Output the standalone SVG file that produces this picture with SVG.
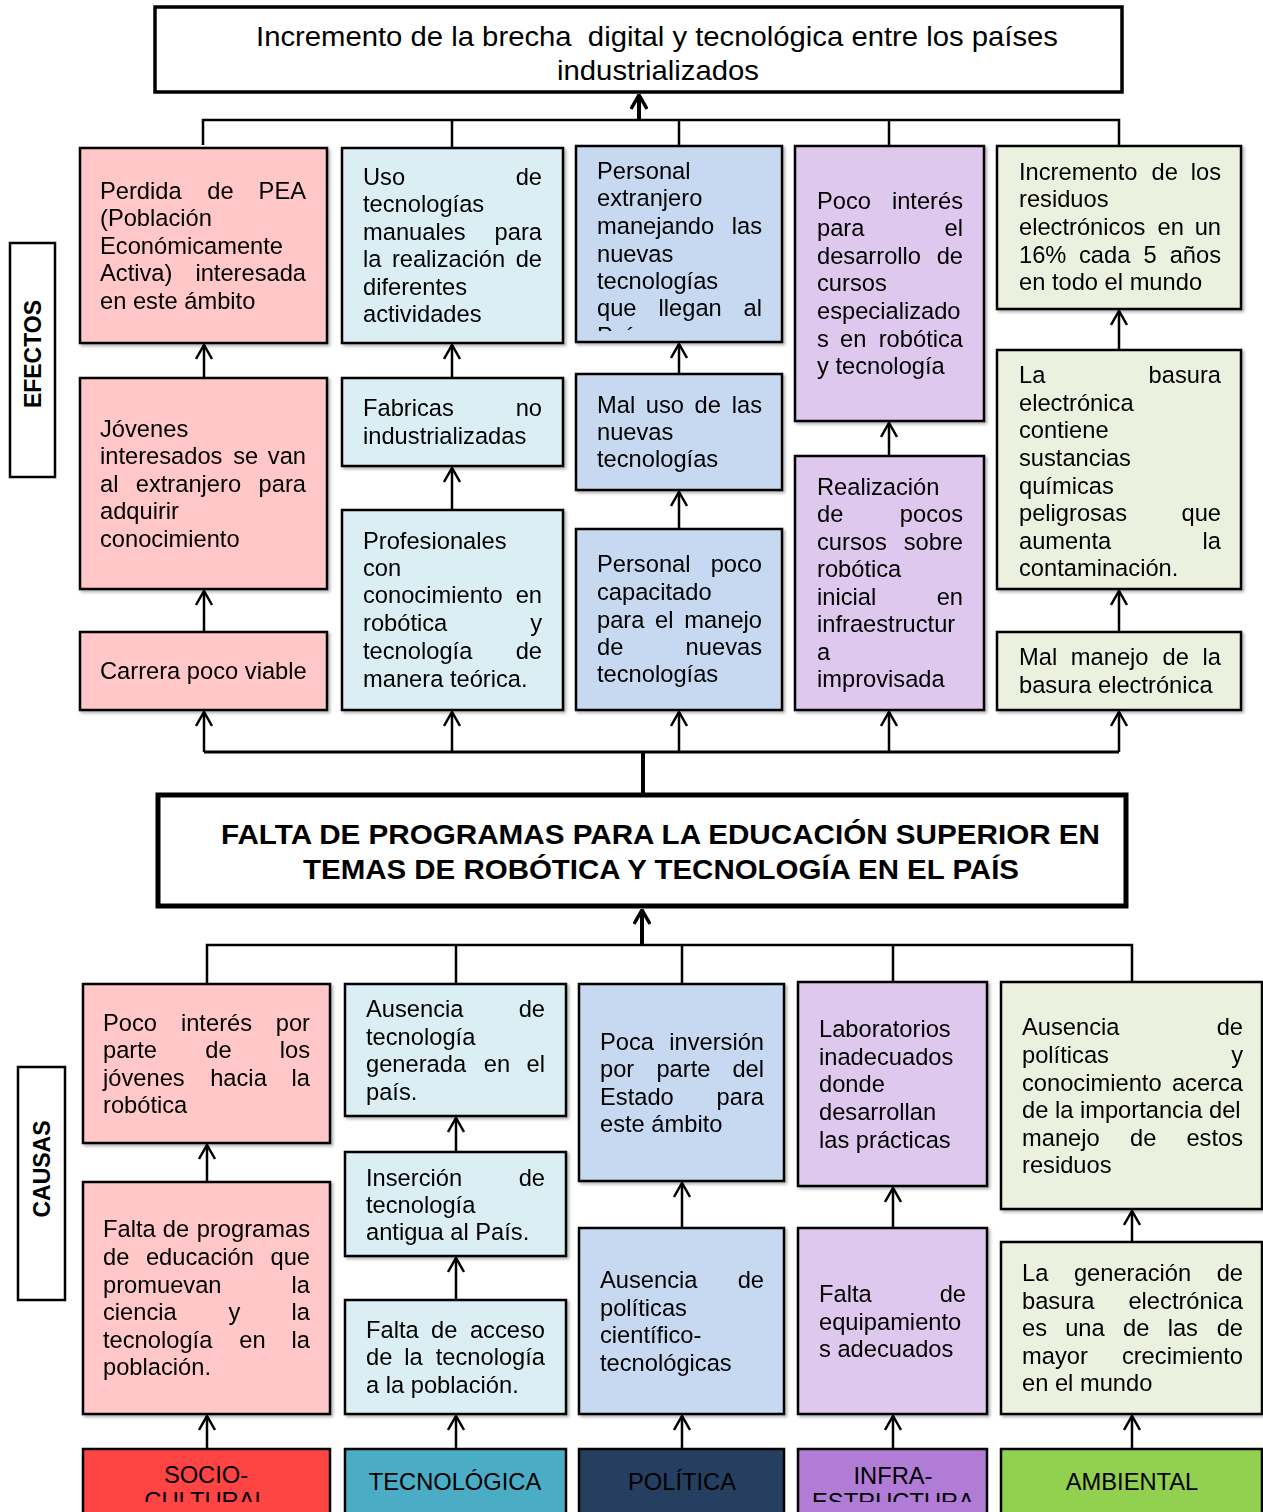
<svg xmlns="http://www.w3.org/2000/svg" width="1263" height="1512" viewBox="0 0 1263 1512">
<style>
text{font-family:"Liberation Sans",Arial,sans-serif;font-size:23.7px;fill:#000}
.e{text-anchor:end}
.m{text-anchor:middle}
.b{stroke:#000;stroke-width:2.5}
.pk{fill:#FFC7C7}.lb{fill:#DBEEF4}.bl{fill:#C6D9F1}.lv{fill:#DFC8EE}.gr{fill:#EBF1DE}
.ln{stroke:#000;stroke-width:2.5;fill:none}
.ar{stroke:#000;stroke-width:2.5;fill:none;marker-end:url(#ah)}
.tk{stroke:#000;stroke-width:4;fill:none}
.bd{font-weight:bold}
</style>
<defs>
<marker id="ah" viewBox="0 0 16 18" refX="15" refY="9" markerWidth="16" markerHeight="18" markerUnits="userSpaceOnUse" orient="auto">
<path d="M1,1 L15,9 L1,17" fill="none" stroke="#000" stroke-width="2.5"/>
</marker>
<marker id="ahk" viewBox="0 0 16 18" refX="14" refY="9" markerWidth="16" markerHeight="18" markerUnits="userSpaceOnUse" orient="auto">
<path d="M1,1 L15,9 L1,17" fill="none" stroke="#000" stroke-width="3.5"/>
</marker>
<filter id="sh" x="-5%" y="-5%" width="115%" height="115%">
<feDropShadow dx="2" dy="2" stdDeviation="1.5" flood-color="#000" flood-opacity="0.3"/>
</filter>
<clipPath id="c3clip"><rect x="576" y="146" width="206" height="185"/></clipPath>
<clipPath id="catclip"><rect x="0" y="1440" width="1263" height="62"/></clipPath>
</defs>

<g id="connectors">
<polyline class="ln" points="203,145 203,120 1119,120 1119,145"/>
<line class="ln" x1="452" y1="120" x2="452" y2="147"/>
<line class="ln" x1="679" y1="120" x2="679" y2="145"/>
<line class="ln" x1="889" y1="120" x2="889" y2="145"/>
<line class="tk" x1="639" y1="120" x2="639" y2="96" marker-end="url(#ahk)"/>
<line class="ar" x1="204" y1="378" x2="204" y2="345"/>
<line class="ar" x1="204" y1="632" x2="204" y2="591"/>
<line class="ar" x1="452" y1="378" x2="452" y2="345"/>
<line class="ar" x1="452" y1="510" x2="452" y2="468"/>
<line class="ar" x1="679" y1="374" x2="679" y2="344"/>
<line class="ar" x1="679" y1="529" x2="679" y2="492"/>
<line class="ar" x1="889" y1="456" x2="889" y2="423"/>
<line class="ar" x1="1119" y1="350" x2="1119" y2="311"/>
<line class="ar" x1="1119" y1="632" x2="1119" y2="591"/>
<polyline class="ln" points="204,752 1119,752" style="stroke-width:3"/>
<line class="ar" x1="204" y1="752" x2="204" y2="712"/>
<line class="ar" x1="452" y1="752" x2="452" y2="712"/>
<line class="ar" x1="679" y1="752" x2="679" y2="712"/>
<line class="ar" x1="889" y1="752" x2="889" y2="712"/>
<line class="ar" x1="1119" y1="752" x2="1119" y2="712"/>
<line class="tk" x1="643" y1="751" x2="643" y2="795"/>
<line class="tk" x1="642" y1="945" x2="642" y2="911" marker-end="url(#ahk)"/>
<polyline class="ln" points="207,984 207,945 1132,945 1132,982"/>
<line class="ln" x1="456" y1="945" x2="456" y2="984"/>
<line class="ln" x1="682" y1="945" x2="682" y2="984"/>
<line class="ln" x1="893" y1="945" x2="893" y2="982"/>
<line class="ar" x1="207" y1="1182" x2="207" y2="1145"/>
<line class="ar" x1="207" y1="1449" x2="207" y2="1416"/>
<line class="ar" x1="456" y1="1152" x2="456" y2="1118"/>
<line class="ar" x1="456" y1="1300" x2="456" y2="1258"/>
<line class="ar" x1="456" y1="1449" x2="456" y2="1416"/>
<line class="ar" x1="682" y1="1228" x2="682" y2="1183"/>
<line class="ar" x1="682" y1="1449" x2="682" y2="1416"/>
<line class="ar" x1="893" y1="1228" x2="893" y2="1188"/>
<line class="ar" x1="893" y1="1449" x2="893" y2="1416"/>
<line class="ar" x1="1132" y1="1242" x2="1132" y2="1211"/>
<line class="ar" x1="1132" y1="1449" x2="1132" y2="1416"/>
</g>

<g id="effect-top">
<rect x="155" y="7" width="967" height="85" fill="#fff" stroke="#000" stroke-width="3.5"/>
<text x="657" y="45.5" class="m" style="font-size:27.5px" textLength="802" lengthAdjust="spacingAndGlyphs">Incremento de la brecha &#160;digital y tecnológica entre los países</text>
<text x="658" y="80" class="m" style="font-size:27.5px" textLength="202" lengthAdjust="spacingAndGlyphs">industrializados</text>
</g>

<g id="label-efectos">
<rect x="10" y="243" width="45" height="234" fill="#fff" class="b"/>
<text class="bd m" style="font-size:23px" transform="translate(41,354) rotate(-90)">EFECTOS</text>
</g>

<g id="e1a" filter="url(#sh)">
<rect x="80" y="148" width="247" height="195" class="pk b"/>
<text x="100" y="199">Perdida</text><text x="220.4" y="199" class="m">de</text><text x="306" y="199" class="e">PEA</text>
<text x="100" y="226">(Población</text>
<text x="100" y="254">Económicamente</text>
<text x="100" y="281">Activa)</text><text x="306" y="281" class="e">interesada</text>
<text x="100" y="309">en este ámbito</text>
</g>
<g id="e1b" filter="url(#sh)">
<rect x="80" y="378" width="247" height="211" class="pk b"/>
<text x="100" y="437">Jóvenes</text>
<text x="100" y="464">interesados</text><text x="245.7" y="464" class="m">se</text><text x="306" y="464" class="e">van</text>
<text x="100" y="492">al</text><text x="188.4" y="492" class="m">extranjero</text><text x="306" y="492" class="e">para</text>
<text x="100" y="519">adquirir</text>
<text x="100" y="547">conocimiento</text>
</g>
<g id="e1c" filter="url(#sh)">
<rect x="80" y="632" width="247" height="78" class="pk b"/>
<text x="100" y="679">Carrera poco viable</text>
</g>

<g id="e2a" filter="url(#sh)">
<rect x="342" y="148" width="221" height="195" class="lb b"/>
<text x="363" y="185">Uso</text><text x="542" y="185" class="e">de</text>
<text x="363" y="212">tecnologías</text>
<text x="363" y="240">manuales</text><text x="542" y="240" class="e">para</text>
<text x="363" y="267">la</text><text x="448.5" y="267" class="m">realización</text><text x="542" y="267" class="e">de</text>
<text x="363" y="295">diferentes</text>
<text x="363" y="322">actividades</text>
</g>
<g id="e2b" filter="url(#sh)">
<rect x="342" y="378" width="221" height="88" class="lb b"/>
<text x="363" y="416">Fabricas</text><text x="542" y="416" class="e">no</text>
<text x="363" y="444">industrializadas</text>
</g>
<g id="e2c" filter="url(#sh)">
<rect x="342" y="510" width="221" height="200" class="lb b"/>
<text x="363" y="549">Profesionales</text>
<text x="363" y="576">con</text>
<text x="363" y="603">conocimiento</text><text x="542" y="603" class="e">en</text>
<text x="363" y="631">robótica</text><text x="542" y="631" class="e">y</text>
<text x="363" y="659">tecnología</text><text x="542" y="659" class="e">de</text>
<text x="363" y="687">manera teórica.</text>
</g>

<g id="e3a" filter="url(#sh)">
<rect x="576" y="146" width="206" height="196" class="bl b"/>
<g clip-path="url(#c3clip)">
<text x="597" y="179">Personal</text>
<text x="597" y="206">extranjero</text>
<text x="597" y="234">manejando</text><text x="762" y="234" class="e">las</text>
<text x="597" y="262">nuevas</text>
<text x="597" y="289">tecnologías</text>
<text x="597" y="316">que</text><text x="690.2" y="316" class="m">llegan</text><text x="762" y="316" class="e">al</text>
<text x="597" y="344">País.</text>
</g>
</g>
<g id="e3b" filter="url(#sh)">
<rect x="576" y="374" width="206" height="116" class="bl b"/>
<text x="597" y="413">Mal</text><text x="645.8" y="413">uso</text><text x="694.6" y="413">de</text><text x="762" y="413" class="e">las</text>
<text x="597" y="440">nuevas</text>
<text x="597" y="467">tecnologías</text>
</g>
<g id="e3c" filter="url(#sh)">
<rect x="576" y="529" width="206" height="181" class="bl b"/>
<text x="597" y="572">Personal</text><text x="762" y="572" class="e">poco</text>
<text x="597" y="600">capacitado</text>
<text x="597" y="628">para</text><text x="664.2" y="628" class="m">el</text><text x="762" y="628" class="e">manejo</text>
<text x="597" y="655">de</text><text x="762" y="655" class="e">nuevas</text>
<text x="597" y="682">tecnologías</text>
</g>

<g id="e4a" filter="url(#sh)">
<rect x="795" y="146" width="189" height="275" class="lv b"/>
<text x="817" y="209">Poco</text><text x="963" y="209" class="e">interés</text>
<text x="817" y="236">para</text><text x="963" y="236" class="e">el</text>
<text x="817" y="264">desarrollo</text><text x="963" y="264" class="e">de</text>
<text x="817" y="291">cursos</text>
<text x="817" y="319">especializado</text>
<text x="817" y="347">s</text><text x="853.3" y="347" class="m">en</text><text x="963" y="347" class="e">robótica</text>
<text x="817" y="374">y tecnología</text>
</g>
<g id="e4b" filter="url(#sh)">
<rect x="795" y="456" width="189" height="254" class="lv b"/>
<text x="817" y="495">Realización</text>
<text x="817" y="522">de</text><text x="963" y="522" class="e">pocos</text>
<text x="817" y="550">cursos</text><text x="963" y="550" class="e">sobre</text>
<text x="817" y="577">robótica</text>
<text x="817" y="605">inicial</text><text x="963" y="605" class="e">en</text>
<text x="817" y="632">infraestructur</text>
<text x="817" y="660">a</text>
<text x="817" y="687">improvisada</text>
</g>

<g id="e5a" filter="url(#sh)">
<rect x="997" y="146" width="244" height="163" class="gr b"/>
<text x="1019" y="180">Incremento</text><text x="1164.7" y="180" class="m">de</text><text x="1221" y="180" class="e">los</text>
<text x="1019" y="207">residuos</text>
<text x="1019" y="235">electrónicos</text><text x="1170.7" y="235" class="m">en</text><text x="1221" y="235" class="e">un</text>
<text x="1019" y="263">16%</text><text x="1079" y="263">cada</text><text x="1143.5" y="263">5</text><text x="1221" y="263" class="e">años</text>
<text x="1019" y="290">en todo el mundo</text>
</g>
<g id="e5b" filter="url(#sh)">
<rect x="997" y="350" width="244" height="239" class="gr b"/>
<text x="1019" y="383">La</text><text x="1221" y="383" class="e">basura</text>
<text x="1019" y="411">electrónica</text>
<text x="1019" y="438">contiene</text>
<text x="1019" y="466">sustancias</text>
<text x="1019" y="494">químicas</text>
<text x="1019" y="521">peligrosas</text><text x="1221" y="521" class="e">que</text>
<text x="1019" y="549">aumenta</text><text x="1221" y="549" class="e">la</text>
<text x="1019" y="576">contaminación.</text>
</g>
<g id="e5c" filter="url(#sh)">
<rect x="997" y="632" width="244" height="78" class="gr b"/>
<text x="1019" y="665">Mal</text><text x="1070.8" y="665">manejo</text><text x="1162.6" y="665">de</text><text x="1221" y="665" class="e">la</text>
<text x="1019" y="693">basura electrónica</text>
</g>

<g id="problem">
<rect x="158" y="795" width="968" height="111" fill="#fff" stroke="#000" stroke-width="5"/>
<text x="660.5" y="844" class="m bd" style="font-size:28px" textLength="879" lengthAdjust="spacingAndGlyphs">FALTA DE PROGRAMAS PARA LA EDUCACIÓN SUPERIOR EN</text>
<text x="661" y="879" class="m bd" style="font-size:28px" textLength="716" lengthAdjust="spacingAndGlyphs">TEMAS DE ROBÓTICA Y TECNOLOGÍA EN EL PAÍS</text>
</g>

<g id="label-causas">
<rect x="18" y="1067" width="47" height="233" fill="#fff" class="b"/>
<text class="bd m" style="font-size:23px" transform="translate(50,1169) rotate(-90)">CAUSAS</text>
</g>

<g id="c1a" filter="url(#sh)">
<rect x="83" y="984" width="247" height="159" class="pk b"/>
<text x="103" y="1031">Poco</text><text x="216.5" y="1031" class="m">interés</text><text x="310" y="1031" class="e">por</text>
<text x="103" y="1058">parte</text><text x="218.5" y="1058" class="m">de</text><text x="310" y="1058" class="e">los</text>
<text x="103" y="1086">jóvenes</text><text x="238.5" y="1086" class="m">hacia</text><text x="310" y="1086" class="e">la</text>
<text x="103" y="1113">robótica</text>
</g>
<g id="c1b" filter="url(#sh)">
<rect x="83" y="1182" width="247" height="232" class="pk b"/>
<text x="103" y="1237">Falta</text><text x="175.9" y="1237" class="m">de</text><text x="310" y="1237" class="e">programas</text>
<text x="103" y="1265">de</text><text x="199.9" y="1265" class="m">educación</text><text x="310" y="1265" class="e">que</text>
<text x="103" y="1293">promuevan</text><text x="310" y="1293" class="e">la</text>
<text x="103" y="1320">ciencia</text><text x="234.5" y="1320" class="m">y</text><text x="310" y="1320" class="e">la</text>
<text x="103" y="1348">tecnología</text><text x="252.5" y="1348" class="m">en</text><text x="310" y="1348" class="e">la</text>
<text x="103" y="1375">población.</text>
</g>

<g id="c2a" filter="url(#sh)">
<rect x="345" y="984" width="221" height="132" class="lb b"/>
<text x="366" y="1017">Ausencia</text><text x="545" y="1017" class="e">de</text>
<text x="366" y="1045">tecnología</text>
<text x="366" y="1072">generada</text><text x="496.9" y="1072" class="m">en</text><text x="545" y="1072" class="e">el</text>
<text x="366" y="1100">país.</text>
</g>
<g id="c2b" filter="url(#sh)">
<rect x="345" y="1152" width="221" height="104" class="lb b"/>
<text x="366" y="1186">Inserción</text><text x="545" y="1186" class="e">de</text>
<text x="366" y="1213">tecnología</text>
<text x="366" y="1240">antigua al País.</text>
</g>
<g id="c2c" filter="url(#sh)">
<rect x="345" y="1300" width="221" height="114" class="lb b"/>
<text x="366" y="1338">Falta</text><text x="444.2" y="1338" class="m">de</text><text x="545" y="1338" class="e">acceso</text>
<text x="366" y="1365">de</text><text x="413.5" y="1365" class="m">la</text><text x="545" y="1365" class="e">tecnología</text>
<text x="366" y="1393">a la población.</text>
</g>

<g id="c3a" filter="url(#sh)">
<rect x="579" y="984" width="205" height="197" class="bl b"/>
<text x="600" y="1050">Poca</text><text x="764" y="1050" class="e">inversión</text>
<text x="600" y="1077">por</text><text x="683.4" y="1077" class="m">parte</text><text x="764" y="1077" class="e">del</text>
<text x="600" y="1105">Estado</text><text x="764" y="1105" class="e">para</text>
<text x="600" y="1132">este ámbito</text>
</g>
<g id="c3b" filter="url(#sh)">
<rect x="579" y="1228" width="205" height="186" class="bl b"/>
<text x="600" y="1288">Ausencia</text><text x="764" y="1288" class="e">de</text>
<text x="600" y="1316">políticas</text>
<text x="600" y="1343">científico-</text>
<text x="600" y="1371">tecnológicas</text>
</g>

<g id="c4a" filter="url(#sh)">
<rect x="798" y="982" width="189" height="204" class="lv b"/>
<text x="819" y="1037">Laboratorios</text>
<text x="819" y="1065">inadecuados</text>
<text x="819" y="1092">donde</text>
<text x="819" y="1120">desarrollan</text>
<text x="819" y="1148">las prácticas</text>
</g>
<g id="c4b" filter="url(#sh)">
<rect x="798" y="1228" width="189" height="186" class="lv b"/>
<text x="819" y="1302">Falta</text><text x="966" y="1302" class="e">de</text>
<text x="819" y="1330">equipamiento</text>
<text x="819" y="1357">s adecuados</text>
</g>

<g id="c5a" filter="url(#sh)">
<rect x="1001" y="982" width="261" height="227" class="gr b"/>
<text x="1022" y="1035">Ausencia</text><text x="1243" y="1035" class="e">de</text>
<text x="1022" y="1063">políticas</text><text x="1243" y="1063" class="e">y</text>
<text x="1022" y="1091">conocimiento</text><text x="1243" y="1091" class="e">acerca</text>
<text x="1022" y="1118">de la importancia del</text>
<text x="1022" y="1146">manejo</text><text x="1143.2" y="1146" class="m">de</text><text x="1243" y="1146" class="e">estos</text>
<text x="1022" y="1173">residuos</text>
</g>
<g id="c5b" filter="url(#sh)">
<rect x="1001" y="1242" width="261" height="172" class="gr b"/>
<text x="1022" y="1281">La</text><text x="1132.5" y="1281" class="m">generación</text><text x="1243" y="1281" class="e">de</text>
<text x="1022" y="1309">basura</text><text x="1243" y="1309" class="e">electrónica</text>
<text x="1022" y="1336">es</text><text x="1065.2" y="1336">una</text><text x="1123.1" y="1336">de</text><text x="1167.7" y="1336">las</text><text x="1243" y="1336" class="e">de</text>
<text x="1022" y="1364">mayor</text><text x="1243" y="1364" class="e">crecimiento</text>
<text x="1022" y="1391">en el mundo</text>
</g>

<g id="cat-sociocultural">
<rect x="83" y="1449" width="247" height="80" fill="#FF4444" class="b"/>
<g clip-path="url(#catclip)">
<text x="206" y="1483" class="m">SOCIO-</text>
<text x="206" y="1509" class="m">CULTURAL</text>
</g>
</g>
<g id="cat-tecnologica">
<rect x="345" y="1449" width="221" height="80" fill="#4BACC6" class="b"/>
<text x="455" y="1490" class="m">TECNOLÓGICA</text>
</g>
<g id="cat-politica">
<rect x="579" y="1449" width="205" height="80" fill="#263F61" class="b"/>
<text x="682" y="1490" class="m">POLÍTICA</text>
</g>
<g id="cat-infraestructura">
<rect x="798" y="1449" width="189" height="80" fill="#B07CD6" class="b"/>
<g clip-path="url(#catclip)">
<text x="893" y="1484" class="m">INFRA-</text>
<text x="893" y="1510" class="m">ESTRUCTURA</text>
</g>
</g>
<g id="cat-ambiental">
<rect x="1001" y="1449" width="261" height="80" fill="#92D050" class="b"/>
<text x="1132" y="1490" class="m">AMBIENTAL</text>
</g>
</svg>
